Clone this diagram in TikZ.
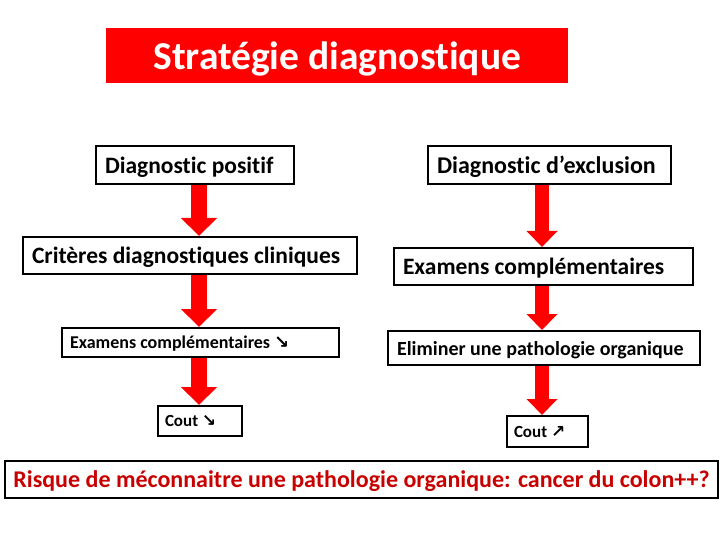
\documentclass[tikz,border=0pt]{standalone}
\usepackage{fontspec}
\setmainfont{Carlito}[Ligatures=NoCommon]
\newfontfamily\symfont{DejaVu Sans}
\usetikzlibrary{arrows.meta}
\definecolor{brightred}{RGB}{255,0,0}
\definecolor{darkred}{RGB}{200,0,0}
\newcommand{\bx}[3]{\makebox[#1pt][#2]{#3}}
\tikzset{
  box/.style={draw=black, line width=2pt, inner ysep=0pt, text depth=0pt, anchor=north west, font=\bfseries},
  bigarrowL/.style={draw=brightred, line width=16pt, -{Triangle[length=18pt,width=35pt]}},
  bigarrowR/.style={draw=brightred, line width=14pt, -{Triangle[length=16pt,width=30pt]}},
}
\begin{document}
\begin{tikzpicture}[x=1pt,y=1pt]
\useasboundingbox (0,0) rectangle (720,-540);
% title
\node[fill=brightred, anchor=north west, minimum width=462pt, minimum height=55pt, inner sep=0pt, text depth=0pt,
  text=white, font=\bfseries\fontsize{39.5}{44}\selectfont] (title) at (106,-28) {Stratégie diagnostique};
% left column
\node[box, inner xsep=9pt, minimum height=38pt, font=\bfseries\fontsize{23.5}{26}\selectfont] (l1) at (95,-145) {\bx{180}{l}{Diagnostic positif}};
\node[box, inner xsep=9pt, minimum height=37pt, font=\bfseries\fontsize{23.5}{26}\selectfont] (l2) at (22,-236) {\bx{316}{l}{Critères diagnostiques cliniques}};
\node[box, inner xsep=8pt, minimum height=29pt, font=\bfseries\fontsize{18}{21}\selectfont] (l3) at (61,-327) {\bx{261}{l}{Examens complémentaires {\symfont ↘}}};
\node[box, inner xsep=7pt, minimum height=30pt, font=\bfseries\fontsize{17}{20}\selectfont] (l4) at (157,-405) {\bx{70}{l}{Cout {\symfont ↘}}};
% right column
\node[box, inner xsep=9pt, minimum height=38pt, font=\bfseries\fontsize{24}{27}\selectfont] (r1) at (427,-145) {\bx{225}{l}{Diagnostic d’exclusion}};
\node[box, inner xsep=9pt, minimum height=37pt, font=\bfseries\fontsize{23.5}{26}\selectfont] (r2) at (393,-247) {\bx{281}{l}{Examens complémentaires}};
\node[box, inner xsep=9pt, minimum height=34pt, font=\bfseries\fontsize{20}{23}\selectfont] (r3) at (387,-330) {\bx{294}{l}{Eliminer une pathologie organique}};
\node[box, inner xsep=7pt, minimum height=31pt, font=\bfseries\fontsize{17}{20}\selectfont] (r4) at (506,-415) {\bx{67}{l}{Cout {\symfont ↗}}};
% bottom
\node[box, inner xsep=8pt, minimum height=37pt, text=darkred, font=\bfseries\fontsize{24}{27}\selectfont] (risk) at (4,-460) {\bx{697}{c}{Risque de méconnaitre une pathologie organique: cancer du colon++?}};
% arrow columns
\coordinate (L) at (199,0);
\coordinate (R) at (542,0);
\draw[bigarrowL] (l1.south -| L) -- (l2.north -| L);
\draw[bigarrowL] (l2.south -| L) -- (l3.north -| L);
\draw[bigarrowL] (l3.south -| L) -- (l4.north -| L);
\draw[bigarrowR] (r1.south -| R) -- (r2.north -| R);
\draw[bigarrowR] (r2.south -| R) -- (r3.north -| R);
\draw[bigarrowR] (r3.south -| R) -- (r4.north -| R);
\end{tikzpicture}
\end{document}
